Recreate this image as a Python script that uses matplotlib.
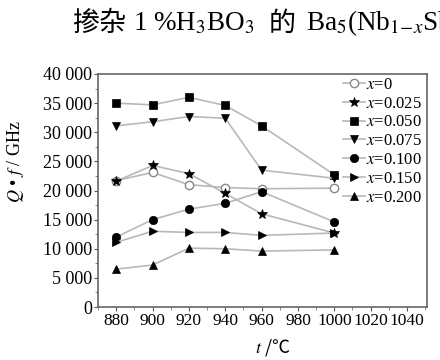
import matplotlib
matplotlib.use('Agg')
import matplotlib.pyplot as plt
from matplotlib.ticker import MultipleLocator, FixedLocator

# ---------------- data ----------------
temps = [880, 900, 920, 940, 960, 1000]
series_labels = ['$x$=0', '$x$=0.025', '$x$=0.050', '$x$=0.075',
                 '$x$=0.100', '$x$=0.150', '$x$=0.200']
q_x0 = [21700, 23100, 21000, 20500, 20300, 20400]
q_x025 = [21600, 24300, 22900, 19500, 16000, 12700]
q_x050 = [35000, 34700, 36000, 34600, 31100, 22700]
q_x075 = [31100, 31800, 32700, 32400, 23500, 22100]
q_x100 = [12000, 15000, 16800, 17800, 19800, 14600]
q_x150 = [11100, 13000, 12800, 12800, 12300, 12700]
q_x200 = [6500, 7200, 10100, 10000, 9600, 9800]
x_ticks = [880, 900, 920, 940, 960, 980, 1000, 1020, 1040]
y_ticks = [0, 5000, 10000, 15000, 20000, 25000, 30000, 35000, 40000]
y_tick_labels = ['0', '5 000', '10 000', '15 000', '20 000', '25 000',
                 '30 000', '35 000', '40 000']
title_parts = ['掺杂', '1 %H$_3$BO$_3$', '的',
               r'Ba$_5$(Nb$_{1\!-\!x}$Sb$_x$)$_4$O$_{15}$']

# ---------------- style ----------------
plt.rcParams['font.family'] = ['Liberation Serif', 'Noto Sans CJK SC']
plt.rcParams['mathtext.fontset'] = 'stix'

SERIF = ['Liberation Serif', 'Noto Sans CJK SC']
CJK = ['Noto Sans CJK SC', 'Liberation Serif']

fig = plt.figure(figsize=(4.4, 3.6), dpi=100)
ax = fig.add_axes([98 / 440, 1 - 307 / 360, (427 - 98) / 440, (307 - 74) / 360])

line_col = '#b8b8b8'
all_q = [q_x0, q_x025, q_x050, q_x075, q_x100, q_x150, q_x200]
markers = ['o', '*', 's', 'v', 'o', '>', '^']
msizes = [6, 7, 5.5, 6, 6, 6, 6]
handles = []
for q, m, ms, lab in zip(all_q, markers, msizes, series_labels):
    if lab == '$x$=0':
        kw = dict(markerfacecolor='white', markeredgecolor='#888888', markeredgewidth=1.0)
    else:
        kw = dict(markerfacecolor='black', markeredgecolor='black', markeredgewidth=0.5)
    ln, = ax.plot(temps, q, color=line_col, lw=1.2, marker=m, ms=ms, label=lab, zorder=3, **kw)
    handles.append(ln)

ax.set_xlim(870, 1051)
ax.set_ylim(0, 40000)
ax.xaxis.set_major_locator(FixedLocator(x_ticks))
ax.xaxis.set_minor_locator(MultipleLocator(10))
ax.yaxis.set_major_locator(FixedLocator(y_ticks))
ax.set_yticklabels(y_tick_labels)
ax.yaxis.set_minor_locator(MultipleLocator(2500))
ax.tick_params(axis='both', which='major', direction='out', length=3, width=0.8,
               colors='#555555', labelcolor='black', labelsize=13, pad=1)
ax.tick_params(axis='both', which='minor', direction='out', length=2, width=0.6, colors='#777777')
for lbl in ax.get_xticklabels():
    lbl.set_fontsize(12.5)
for sp in ax.spines.values():
    sp.set_color('#666666')
    sp.set_linewidth(1.2)

ax.set_ylabel('$Q$ • $f$ / GHz', fontsize=13)
ax.yaxis.set_label_coords(-0.218, 0.622)
ax.set_xlabel('$t$ /℃', fontsize=13, family=CJK)
ax.xaxis.set_label_coords(0.53, -0.13)

leg = ax.legend(handles=handles, loc='upper right', bbox_to_anchor=(1.006, 1.017),
                frameon=False, fontsize=12, handlelength=1.3, handletextpad=0.1,
                labelspacing=0.17, borderaxespad=0.0)

# ---------------- title (chained pieces) ----------------
fig.canvas.draw()
renderer = fig.canvas.get_renderer()
x_px = 72
base_y = 0.915
gaps = [7, 14, 10, 0]
fams = [CJK, SERIF, CJK, SERIF]
sizes = [19.5, 19.5, 19.5, 19.5]
for part, fam, gap, fs in zip(title_parts, fams, gaps, sizes):
    t = fig.text(x_px / 440, base_y, part, family=fam, fontsize=fs, va='baseline', ha='left')
    bb = t.get_window_extent(renderer)
    x_px = bb.x1 + gap

fig.savefig('out.png', dpi=100)
